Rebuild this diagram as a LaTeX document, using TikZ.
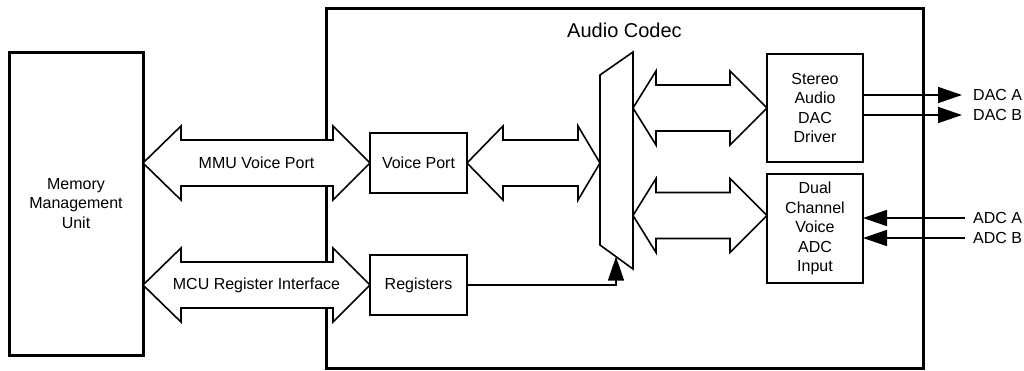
\documentclass[tikz,border=0pt]{standalone}
\usepackage{fontspec}
\setmainfont{Liberation Sans}
\usetikzlibrary{positioning,calc,arrows.meta}

\tikzset{
  blk/.style={draw, line width=1.6pt, fill=white, inner sep=0pt, outer sep=0pt,
    align=center, font=\fontsize{16}{19.5}\selectfont},
  heavy/.style={blk, line width=3pt},
  fatarrow/.style={draw, line width=1.6pt, fill=white, line join=miter},
  sig/.style={line width=1.6pt, -{Triangle[length=24pt,width=16pt]}},
  siglbl/.style={font=\fontsize{16}{19}\selectfont, inner sep=0pt, anchor=west},
}

% #1 left tip, #2 right tip, #3/#4 head lengths, #5 text
\newcommand{\fatarrow}[5]{%
  \draw[fatarrow] let \p1=#1, \p2=#2 in
    (\x1,\y1) -- (\x1+#3pt,\y1+37pt) -- (\x1+#3pt,\y1+23pt)
    -- (\x2-#4pt,\y2+23pt) -- (\x2-#4pt,\y2+37pt) -- (\x2,\y2)
    -- (\x2-#4pt,\y2-37pt) -- (\x2-#4pt,\y2-23pt)
    -- (\x1+#3pt,\y1-23pt) -- (\x1+#3pt,\y1-37pt) -- cycle
    ({0.5*\x1+0.5*\x2},\y1) node[font=\fontsize{16}{19}\selectfont] {#5};}

\begin{document}
\begin{tikzpicture}[x=1pt, y=1pt]
  \useasboundingbox (0,0) rectangle (1024,-370);

  % Codec frame
  \node[heavy, minimum width=597pt, minimum height=360pt] (codec) at (624.5,-188) {};
  \node[font=\fontsize{20}{24}\selectfont, inner sep=0pt, below=14.5pt of codec.north] (title) {Audio Codec};

  % Blocks
  \node[heavy, minimum width=134pt, minimum height=303pt] (mmu) at (76,-203.5) {Memory\\Management\\Unit};
  \node[blk, minimum width=97pt, minimum height=60pt] (vp) at (418.5,-163) {Voice Port};
  \node[blk, minimum width=97pt, minimum height=60pt, on grid, below=122pt of vp] (reg) {Registers};
  \node[blk, minimum width=96pt, minimum height=108pt] (dac) at (815,-108) {Stereo\\Audio\\DAC\\Driver};
  \node[blk, minimum width=96pt, minimum height=109pt, on grid, below=120.5pt of dac] (adc) {Dual\\Channel\\Voice\\ADC\\Input};

  % Mux
  \coordinate (mux-lt) at (600,-75);
  \coordinate (mux-lb) at (600,-245);
  \coordinate (mux-rt) at (633,-52);
  \coordinate (mux-rb) at (633,-269);
  \draw[line width=1.6pt, fill=white] (mux-lt) -- (mux-rt) -- (mux-rb) -- (mux-lb) -- cycle;

  % Buses
  \fatarrow{(mmu.east |- vp.west)}{(vp.west)}{38}{37}{MMU Voice Port}
  \fatarrow{(mmu.east |- reg.west)}{(reg.west)}{38}{37}{MCU Register Interface}
  \fatarrow{(vp.east)}{(vp.east -| mux-lt)}{36}{22}{}
  \fatarrow{(mux-rt |- dac.west)}{(dac.west)}{23}{37}{}
  \fatarrow{($(mux-rt |- adc.west)+(0,13)$)}{($(adc.west)+(0,13)$)}{23}{37}{}

  % Control
  \coordinate (muxin) at ($(mux-lb)!0.485!(mux-rb)$);
  \draw[sig] (reg.east) -| (muxin);

  % Outputs
  \coordinate (dacAend) at (962,-95);
  \coordinate (dacBend) at (962,-115);
  \draw[sig] (dac.east |- dacAend) -- (dacAend);
  \draw[sig] (dac.east |- dacBend) -- (dacBend);
  \node[siglbl, right=11pt of dacAend] (dacA) {DAC A};
  \node[siglbl, right=11pt of dacBend] (dacB) {DAC B};

  % Inputs
  \coordinate (adcAin) at (965,-218);
  \coordinate (adcBin) at (965,-238);
  \draw[sig] (adcAin) -- (adc.east |- adcAin);
  \draw[sig] (adcBin) -- (adc.east |- adcBin);
  \node[siglbl, right=8pt of adcAin] (adcA) {ADC A};
  \node[siglbl, right=8pt of adcBin] (adcB) {ADC B};
\end{tikzpicture}
\end{document}
